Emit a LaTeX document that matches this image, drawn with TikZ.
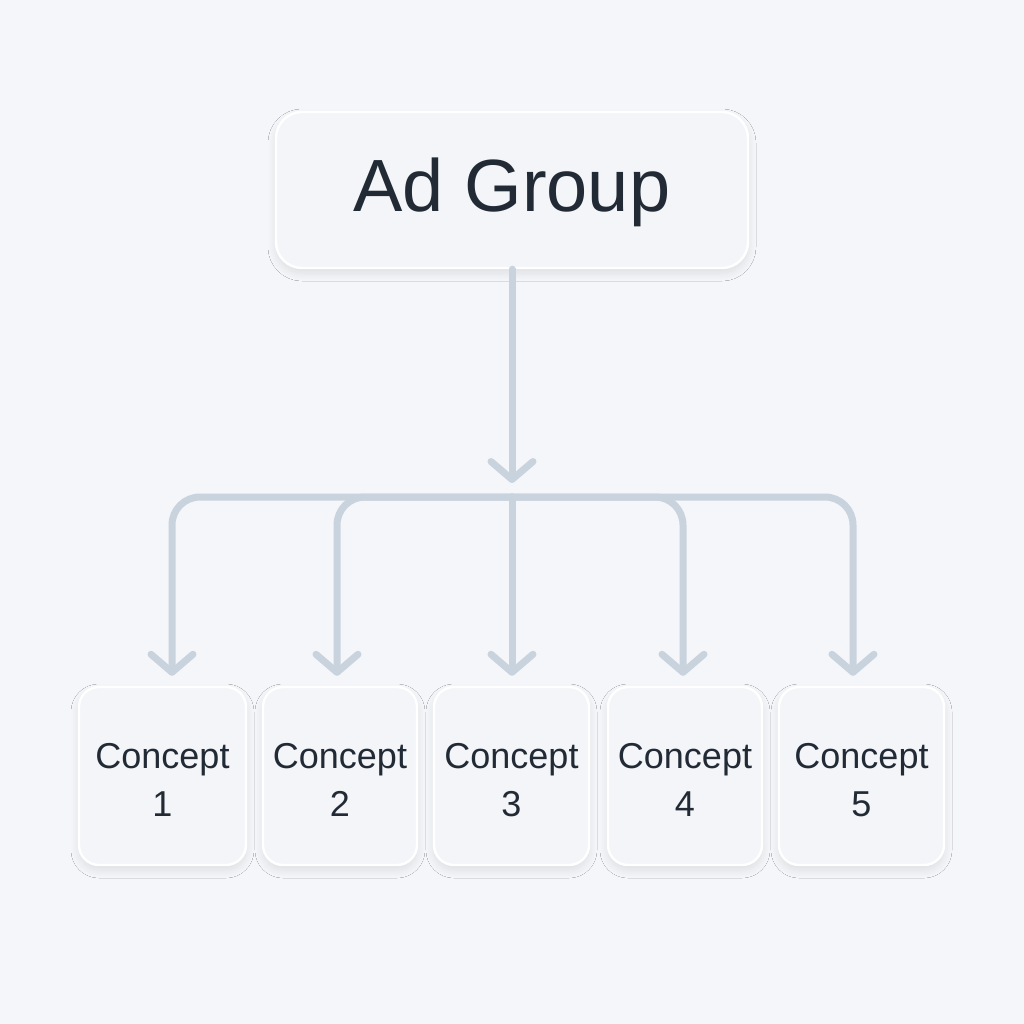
\documentclass[tikz,border=0pt]{standalone}
\usepackage{fontspec}
\setmainfont{Liberation Sans}
\usetikzlibrary{arrows.meta,shadows.blur}
\definecolor{bg}{HTML}{F4F6F9}
\definecolor{boxfill}{HTML}{F3F5F8}
\definecolor{linec}{HTML}{C9D3DE}
\definecolor{txt}{HTML}{222B35}
\newcommand{\cstrut}{\rule{0pt}{16.3pt}}
\begin{document}
\begin{tikzpicture}[x=0.5pt,y=-0.5pt,
  box/.style={draw=white, line width=1.2pt, fill=boxfill, rounded corners=10pt, text=txt,
    blur shadow={shadow xshift=0pt, shadow yshift=-2.5pt, shadow blur radius=4pt, shadow blur steps=12, shadow opacity=10}},
  conn/.style={draw=linec, line width=3.5pt, line cap=round, rounded corners=14pt},
  tipend/.style={-{Straight Barb[length=9pt,width=21pt,round]}},
  cpt/.style={box, minimum height=89pt, align=center, font=\fontsize{18}{24}\selectfont, inner sep=0pt}]
\fill[bg] (0,0) rectangle (1024,1024);
\useasboundingbox (0,0) rectangle (1024,1024);

\node[box, rounded corners=13pt, minimum width=236pt, minimum height=78pt,
  font=\fontsize{37}{44}\selectfont, text height=21.5pt, text depth=0pt] (ad) at (512,190) {Ad Group};

\node[cpt, minimum width=83.5pt] (c1) at (162.5,776) {\cstrut Concept\\1};
\node[cpt, minimum width=77pt] (c2) at (340,776) {\cstrut Concept\\2};
\node[cpt, minimum width=77.5pt] (c3) at (511.5,776) {\cstrut Concept\\3};
\node[cpt, minimum width=77pt] (c4) at (685,776) {\cstrut Concept\\4};
\node[cpt, minimum width=82.5pt] (c5) at (861.5,776) {\cstrut Concept\\5};

\coordinate (j) at (512,497);
\draw[conn, tipend, shorten >=7pt] (ad.south) -- (j);
\draw[conn, tipend, shorten >=5pt] (j) -| ([xshift=4.75pt]c1.north);
\draw[conn, tipend, shorten >=5pt] (j) -| ([xshift=-1.5pt]c2.north);
\draw[conn, tipend, shorten >=5pt] (j) -- (j |- c3.north);
\draw[conn, tipend, shorten >=5pt] (j) -| ([xshift=-1pt]c4.north);
\draw[conn, tipend, shorten >=5pt] (j) -| ([xshift=-4.25pt]c5.north);
\end{tikzpicture}
\end{document}
